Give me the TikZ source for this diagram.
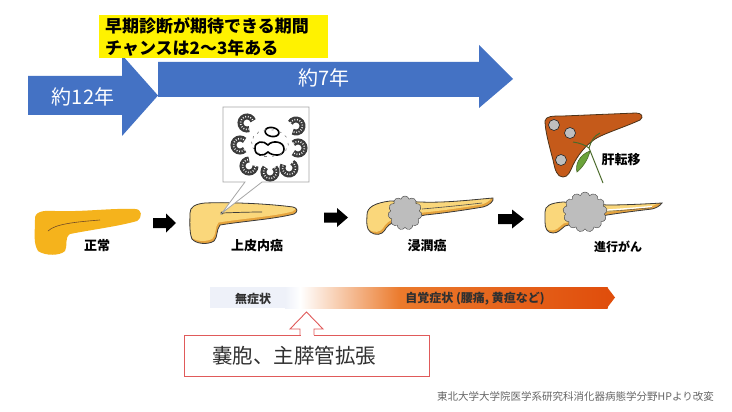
\documentclass[tikz,border=0pt]{standalone}
\usepackage{fontspec}
\setmainfont{Noto Sans CJK JP}
\usetikzlibrary{shapes.symbols}
\definecolor{blu}{HTML}{4472C4}
\definecolor{golden}{HTML}{F5B31C}
\definecolor{plight}{HTML}{FAD77B}
\definecolor{pdark}{HTML}{E6A43E}
\definecolor{outl}{HTML}{3A3A3A}
\definecolor{tumor}{HTML}{BDBDBD}
\definecolor{liverc}{HTML}{C55A1A}
\definecolor{gbc}{HTML}{6BA33A}
\definecolor{ductc}{HTML}{4A6A2A}
\definecolor{acinc}{HTML}{3C3C3C}
\definecolor{barl}{HTML}{EEF1F9}
\definecolor{orgA}{HTML}{EB7A2C}
\definecolor{orgB}{HTML}{E04E0C}
\definecolor{redl}{HTML}{E05A5A}
\definecolor{txtg}{HTML}{303030}
\newcommand\pancTwo[1]{\path[#1] (190,213) .. controls (190,207) and (195,204) .. (205,203) .. controls (235,202) and (270,204) .. (293,207) .. controls (298,208) and (298,212) .. (294,214) .. controls (275,219) and (245,221) .. (220,225) .. controls (216,230) and (218,237) .. (214,241) .. controls (208,245) and (196,244) .. (192,239) .. controls (189,232) and (190,220) .. (190,213) -- cycle;}
\newcommand\pancThree[1]{\path[#1] (367,215) .. controls (367,207) and (375,203) .. (390,201) -- (420,202) .. controls (445,203) and (470,200) .. (493,198) .. controls (494,201) and (490,205) .. (483,207) .. controls (465,210) and (445,213) .. (425,215) -- (395,222) .. controls (385,225) and (386,231) .. (382,233) .. controls (378,236) and (370,234) .. (368,229) .. controls (366,224) and (367,219) .. (367,215) -- cycle;}
\newcommand\pancFour[1]{\path[#1] (545,212) .. controls (545,206) and (550,203) .. (563,202) -- (607,205) .. controls (625,205) and (645,204) .. (662,203) .. controls (660,206) and (656,208) .. (652,209) .. controls (635,211) and (620,213) .. (607,215) -- (565,226) .. controls (560,230) and (558,233) .. (553,233) .. controls (547,233) and (545,228) .. (545,222) -- cycle;}
\newcommand\acinus[3]{\begin{scope}[shift={(#1,#2)},rotate=#3]
\draw[line width=6,draw=acinc] (45:6.5) arc[start angle=45,end angle=315,radius=6.5];
\draw[line width=1.6,white,dash pattern=on 0.8pt off 1.8pt] (45:6.5) arc[start angle=45,end angle=315,radius=6.5];
\end{scope}}
\tikzset{
  lbl/.style={font=\bfseries\fontsize{13}{15}\selectfont,text=black,inner sep=0},
  blockarrow/.style={fill=black},
  bluearrow/.style={fill=blu},
  duct/.style={draw=ductc,line width=1}
}
\begin{document}
\begin{tikzpicture}[x=1pt,y=-1pt]
\useasboundingbox (0,0) rectangle (732,412);
\fill[white] (0,0) rectangle (732,412);
% blue arrows
\path[bluearrow] (28,76) -- (122,76) -- (122,55) -- (158,95.5) -- (122,136) -- (122,115) -- (28,115) -- cycle;
\path[bluearrow] (158,62) -- (479,62) -- (479,45) -- (513,79) -- (479,108) -- (479,97) -- (158,97) -- cycle;
\node[text=white,font=\fontsize{20}{24}\selectfont,inner sep=0] (t12) at (83,97) {約12年};
\node[text=white,font=\fontsize{20}{24}\selectfont,inner sep=0] (t7) at (324,78) {約7年};
% yellow box
\fill[yellow] (99,15) rectangle (328,58);
\node[anchor=west,align=left,font=\bfseries\fontsize{17}{22}\selectfont,inner sep=0] (early) at (105,36.5) {早期診断が期待できる期間\\チャンスは2〜3年ある};
% normal pancreas
\fill[golden] (35,220) .. controls (34,212) and (42,210) .. (55,211) .. controls (85,212) and (110,208) .. (135,209) .. controls (142,209) and (143,217) .. (137,221) .. controls (120,226) and (90,230) .. (70,234) .. controls (64,238) and (68,246) .. (65,251) .. controls (60,256) and (45,256) .. (38,251) .. controls (33,243) and (35,232) .. (35,220) -- cycle;
\draw[draw=brown!60!black,line width=0.6] (48,231) .. controls (55,224) and (75,222) .. (100,220);
\node[lbl] (normal) at (97,246) {正常};
% block arrows
\path[blockarrow] (153,218) -- (166,218) -- (166,213.5) -- (176,223) -- (166,232.5) -- (166,228) -- (153,228) -- cycle;
\path[blockarrow] (324,212.5) -- (337,212.5) -- (337,208) -- (348,217.5) -- (337,227) -- (337,222.5) -- (324,222.5) -- cycle;
\path[blockarrow] (498,214) -- (512,214) -- (512,209.5) -- (524,219) -- (512,228.5) -- (512,224) -- (498,224) -- cycle;
% pancreas 2
\pancTwo{fill=pdark}
\begin{scope}\pancTwo{clip}\pancTwo{fill=plight,shift={(-1.5,-2.5)}}\end{scope}
\pancTwo{draw=outl,line width=0.8}
\coordinate (dot) at (222,213);
\draw[outl,line width=0.7] (dot) .. controls (235,212.5) and (250,212) .. (262,212);
\fill[outl] (dot) circle[radius=1.6];
\node[lbl] (cis) at (257,246) {上皮内癌};
% callout
\coordinate (c1) at (245,182);
\coordinate (c2) at (262,182);
\path[fill=white,draw=gray!70,line width=0.8] (223,107) -- (309,107) -- (309,182) -- (c2) -- (dot) -- (c1) -- (223,182) -- cycle;
\acinus{247}{123}{-25}
\acinus{296}{126}{195}
\acinus{240}{145}{0}
\acinus{298}{148}{180}
\acinus{249}{166}{45}
\acinus{270}{172}{90}
\acinus{289}{168}{105}
\draw[line width=1.6,rotate around={-10:(272,132)}] (272,132) ellipse[x radius=7,y radius=4.5];
\draw[line width=1.6] (255,149) .. controls (254,141) and (264,140) .. (268,145) .. controls (272,140) and (284,141) .. (284,149) .. controls (284,157) and (272,156) .. (268,152) .. controls (264,157) and (255,156) .. (255,149) -- cycle;
\begin{scope}[shift={(270,143)}]
\foreach \a in {0,25,...,335} \draw[gray,line width=0.6] (\a:18 and 13) -- ++(\a+80:2.5);
\end{scope}
% pancreas 3
\pancThree{fill=pdark}
\begin{scope}\pancThree{clip}\pancThree{fill=plight,shift={(-1.5,-2.5)}}\end{scope}
\pancThree{draw=outl,line width=0.8}
\draw[gray!60!black,line width=0.6] (422,209) .. controls (445,207) and (465,205) .. (482,203);
\node[cloud,cloud puffs=11,aspect=1,draw=gray!50!black,fill=tumor,minimum width=34pt,minimum height=34pt,inner sep=0] (tum3) at (405,213) {};
\node[lbl] (inv) at (427,246) {浸潤癌};
% pancreas 4
\pancFour{fill=pdark}
\begin{scope}\pancFour{clip}\pancFour{fill=plight,shift={(-1.5,-2.5)}}\end{scope}
\pancFour{draw=outl,line width=0.8}
\draw[white,line width=1.3] (607,210) .. controls (625,209) and (640,207.5) .. (652,206.5);
\draw[gray!60!black,line width=0.4] (607,211.3) .. controls (625,210.3) and (640,208.8) .. (652,207.8);
\node[cloud,cloud puffs=13,aspect=1,draw=gray!50!black,fill=tumor,minimum width=44pt,minimum height=40pt,inner sep=0] (tum4) at (585,212) {};
\node[lbl,font=\bfseries\fontsize{12}{14}\selectfont] (adv) at (618,247) {進行がん};
% liver
\path[fill=liverc,draw=brown!40!black,line width=0.8] (545,121) .. controls (546,116) and (552,116) .. (563,116) -- (636,113) .. controls (642,113) and (644,117) .. (640,120) .. controls (625,127) and (605,133) .. (595,139) .. controls (585,146) and (578,155) .. (573,165) .. controls (570,172) and (568,177) .. (563,177) .. controls (557,177) and (555,170) .. (553,160) .. controls (549,145) and (545,130) .. (545,121) -- cycle;
\foreach \p/\q in {554/125,570/133,561/160} \draw[fill=gray!50,draw=gray!30!black,line width=0.6] (\p,\q) circle[radius=5.5];
\path[fill=gbc,draw=ductc,line width=0.6] (590,151) .. controls (588,160) and (582,168) .. (577,172) .. controls (575,165) and (579,155) .. (590,151) -- cycle;
\coordinate (dj) at (589,148);
\coordinate (dend) at (603,183);
\draw[duct] (573,142) .. controls (580,143) and (585,145) .. (dj);
\draw[duct] (dj) .. controls (591,141) and (594,136) .. (600,133);
\draw[duct] (dj) -- (dend);
\node[lbl] (meta) at (621,160) {肝転移};
% gradient bar
\fill[barl] (210,287) rectangle (285.3,308);
\shade[left color=barl,right color=white] (285,287) rectangle (300.3,308);
\shade[left color=white,right color=orgA] (300,287) rectangle (400.3,308);
\shade[left color=orgA,right color=orgB] (400,287) rectangle (607.5,308);
\fill[orgB] (607,287) -- (615,297.5) -- (607,308) -- cycle;
\node[lbl,font=\bfseries\fontsize{12}{14}\selectfont,text=txtg] (nosym) at (253,299) {無症状};
\node[lbl,font=\bfseries\fontsize{12}{14}\selectfont,text=txtg] (sym) at (475,299) {自覚症状 (腰痛, 黄疸など)};
% red box and arrow
\draw[redl,line width=0.9] (184,335) rectangle (429,376);
\fill[white] (300.5,328) rectangle (313.5,336);
\coordinate (rtip) at (306.5,312);
\draw[redl,line width=0.9,line join=miter] (300,335) -- (300,329) -- (290,329) -- (rtip) -- (323,329) -- (314,329) -- (314,335);
\node[anchor=west,text=txtg,font=\fontsize{20.5}{24}\selectfont,inner sep=0] (cyst) at (212,356) {嚢胞、主膵管拡張};
% footer
\node[anchor=east,text=gray!80!black,font=\fontsize{10.5}{12}\selectfont,inner sep=0] (src) at (714,397) {東北大学大学院医学系研究科消化器病態学分野HPより改変};
\end{tikzpicture}
\end{document}
